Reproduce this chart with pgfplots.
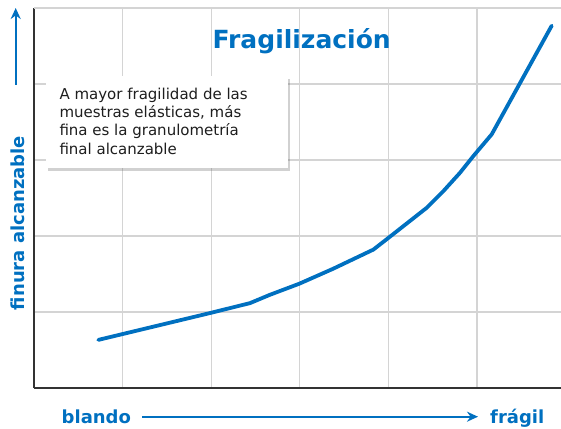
\documentclass[border=0pt]{standalone}
\usepackage{pgfplots}
\pgfplotsset{compat=1.18}
\usepackage{fontspec}
\setmainfont{DejaVu Sans}
\usetikzlibrary{shadows,arrows.meta}
\definecolor{myblue}{RGB}{0,112,192}
\definecolor{gridgray}{RGB}{212,212,212}
\definecolor{txtgray}{RGB}{30,30,30}
\begin{document}
\begin{tikzpicture}[x=1pt,y=1pt]
\path[use as bounding box] (0,0) rectangle (561,428);
\begin{axis}[
  at={(34pt,40pt)}, anchor=south west,
  scale only axis, width=527pt, height=380pt,
  xmin=0, xmax=5.948, ymin=0, ymax=5,
  axis x line*=bottom, axis y line*=left,
  axis line style={draw=black!80, line width=1.2pt, -},
  xtick={1,2,3,4,5}, ytick={1,2,3,4,5},
  xticklabels={}, yticklabels={},
  major tick length=0pt,
  grid=major,
  major grid style={draw=gridgray, line width=1.1pt},
  clip=false,
]
\addplot[myblue, line width=3.8pt, line cap=round, line join=round] coordinates {
(0.726,0.633) (2.0,0.99) (2.438,1.117) (2.664,1.227) (2.994,1.372)
(3.378,1.570) (3.830,1.821) (4.0,1.975) (4.432,2.371) (4.620,2.590)
(4.808,2.832) (4.958,3.051) (5.166,3.338) (5.843,4.767)
};
\end{axis}
% top border
\draw[gridgray, line width=1.1pt] (34,420) -- (561,420);
% title
\node[anchor=base, inner sep=0pt, text=myblue, font=\fontsize{25}{30}\selectfont\bfseries] at (301.7,379) {Fragilización};
% annotation box
\fill[white, drop shadow={shadow xshift=2pt, shadow yshift=-3pt, opacity=0.3, fill=black!60}] (46,260) rectangle (288,352);
\begin{scope}[every node/.style={anchor=base west, inner sep=0pt, text=txtgray, font=\fontsize{15}{18}\selectfont}]
\node at (59.3,328.7) {A mayor fragilidad de las};
\node at (59.3,310.4) {muestras elásticas, más};
\node at (59.3,292.1) {fina es la granulometría};
\node at (59.3,273.8) {final alcanzable};
\end{scope}
% y label
\node[rotate=90, anchor=base, inner sep=0pt, text=myblue, font=\fontsize{18}{22}\selectfont\bfseries] at (24,205) {finura alcanzable};
\draw[myblue, line width=2pt, -{Stealth[length=11pt, width=10pt]}] (15.7,343) -- (15.7,420);
% x label
\node[anchor=base west, inner sep=0pt, text=myblue, font=\fontsize{18}{22}\selectfont\bfseries] at (61.5,4.7) {blando};
\node[anchor=base west, inner sep=0pt, text=myblue, font=\fontsize{18}{22}\selectfont\bfseries] at (490,4.7) {frágil};
\draw[myblue, line width=2pt, -{Stealth[length=11pt, width=10pt]}] (142,11.3) -- (478,11.3);
\end{tikzpicture}
\end{document}
